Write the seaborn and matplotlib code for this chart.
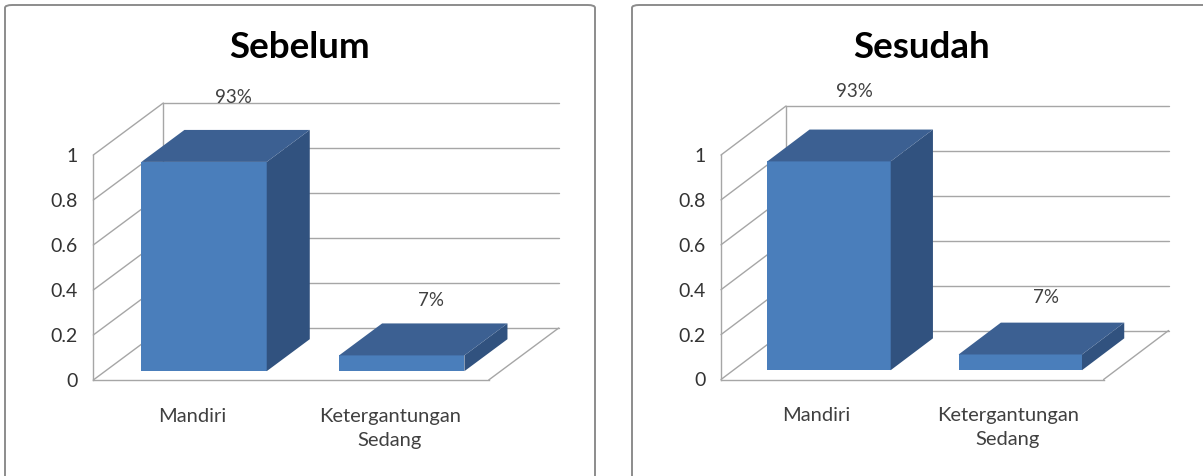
import matplotlib
matplotlib.use("Agg")
import matplotlib.pyplot as plt
import matplotlib.transforms as mtransforms
from matplotlib.patches import Polygon, FancyBboxPatch
import seaborn as sns
import pandas as pd

# ---------------- data ----------------
categories = ["Mandiri", "Ketergantungan\nSedang"]
sebelum_values = [0.93, 0.07]
sesudah_values = [0.93, 0.07]
value_labels = ["93%", "7%"]
panel_titles = ["Sebelum", "Sesudah"]
y_ticks = [0, 0.2, 0.4, 0.6, 0.8, 1]
y_tick_labels = ["0", "0.2", "0.4", "0.6", "0.8", "1"]

# ---------------- style ----------------
sns.set_theme(style="white")
plt.rcParams["font.family"] = ["Lato", "DejaVu Sans"]

W, H = 1203, 476
FRONT = "#4A7EBB"
TOP = "#3C6092"
SIDE = "#31527F"
GRID = "#A6A6A6"
TXT = "#404040"

fig = plt.figure(figsize=(W / 100, H / 100), dpi=100)
fig.patch.set_facecolor("white")

# panel geometry (pixels): axes box, wall origin, scales, depth
panels = [
    dict(box=(5, 5, 595, 476), x0=93.3, cu=197.7, y0=380.0, vu=225.0,
         depth=(70, 52), f0=0.17, f1=0.785, width=0.634, values=sebelum_values,
         frame=(5, 5, 590, 500), lab_off=(41, 63), lab_scale=1.05),
    dict(box=(632, 5, 1212, 476), x0=721.0, cu=191.3, y0=379.5, vu=224.5,
         depth=(65, 49), f0=0.19, f1=0.84, width=0.645, values=sesudah_values,
         frame=(632, 5, 600, 500), lab_off=(38, 65), lab_scale=1.07),
]

for p, title in zip(panels, panel_titles):
    # rounded frame
    fx, fy, fw, fh = p["frame"]
    frame = FancyBboxPatch((fx / W, 1 - (fy + fh) / H), fw / W, fh / H,
                           boxstyle="round,pad=0,rounding_size=0.006",
                           transform=fig.transFigure, facecolor="none",
                           edgecolor="#8C8C8C", linewidth=1.4, zorder=-1)
    fig.patches.append(frame)

    left, top, right, bottom = p["box"]
    ax = fig.add_axes([left / W, 1 - bottom / H, (right - left) / W, (bottom - top) / H])
    ax.set_facecolor("none")

    df = pd.DataFrame({"cat": categories, "val": p["values"]})
    sns.barplot(data=df, x="cat", y="val", ax=ax, width=p["width"],
                color=FRONT, saturation=1, edgecolor="none", zorder=3)

    ax.set_xlim(-0.5 + (left - p["x0"]) / p["cu"], -0.5 + (right - p["x0"]) / p["cu"])
    ax.set_ylim((p["y0"] - bottom) / p["vu"], (p["y0"] - top) / p["vu"])

    ddx = p["depth"][0] / p["cu"]
    ddy = p["depth"][1] / p["vu"]
    n = len(categories)
    xl, xr = -0.5, n - 0.5

    # walls and grid
    for v in y_ticks:
        ax.plot([xl, xl + ddx], [v, v + ddy], color=GRID, lw=1, zorder=1)
        ax.plot([xl + ddx, xr + ddx], [v + ddy, v + ddy], color=GRID, lw=1, zorder=1)
    ax.plot([xl + ddx, xl + ddx], [ddy, y_ticks[-1] + ddy], color=GRID, lw=1, zorder=1)
    ax.plot([xr, xr + ddx], [0, ddy], color=GRID, lw=1, zorder=1)

    # 3D bar faces
    f0, f1 = p["f0"], p["f1"]
    shift = mtransforms.Affine2D().translate(f0 * ddx, f0 * ddy) + ax.transData
    for patch in list(ax.patches):
        x, w, h = patch.get_x(), patch.get_width(), patch.get_height()
        patch.set_transform(shift)
        top_face = [(x + f0 * ddx, h + f0 * ddy), (x + w + f0 * ddx, h + f0 * ddy),
                    (x + w + f1 * ddx, h + f1 * ddy), (x + f1 * ddx, h + f1 * ddy)]
        side_face = [(x + w + f0 * ddx, f0 * ddy), (x + w + f0 * ddx, h + f0 * ddy),
                     (x + w + f1 * ddx, h + f1 * ddy), (x + w + f1 * ddx, f1 * ddy)]
        ax.add_patch(Polygon(side_face, closed=True, facecolor=SIDE, edgecolor="none", zorder=3))
        ax.add_patch(Polygon(top_face, closed=True, facecolor=TOP, edgecolor="none", zorder=4))

    # value labels
    for i, (v, lab) in enumerate(zip(p["values"], value_labels)):
        ax.annotate(lab, (i, v * p["lab_scale"]), xytext=p["lab_off"], textcoords="offset pixels",
                    ha="center", va="center", fontsize=13.5, color=TXT, zorder=6)

    # axes: front wall edge (left spine) and floor front (bottom spine)
    for s in ["top", "right"]:
        ax.spines[s].set_visible(False)
    ax.spines["left"].set_position(("data", xl))
    ax.spines["left"].set_bounds(0, y_ticks[-1])
    ax.spines["bottom"].set_position(("data", 0))
    ax.spines["bottom"].set_bounds(xl, xr)
    for s in ["left", "bottom"]:
        ax.spines[s].set_color(GRID)
        ax.spines[s].set_linewidth(1)
        ax.spines[s].set_zorder(2)
    ax.set_yticks(y_ticks)
    ax.set_yticklabels(y_tick_labels)
    ax.tick_params(axis="y", length=0, pad=11, labelsize=14, labelcolor="#333333")
    ax.tick_params(axis="x", length=0, pad=20, labelsize=14.5, labelcolor=TXT)
    for t in ax.get_xticklabels():
        t.set_linespacing(1.5)
    ax.set_xlabel("")
    ax.set_ylabel("")

    ax.text(0.5, 1 - 43 / (bottom - top), title, transform=ax.transAxes,
            ha="center", va="center", fontsize=26.5, fontweight="bold", color="black")

fig.savefig("out.png", dpi=100)
